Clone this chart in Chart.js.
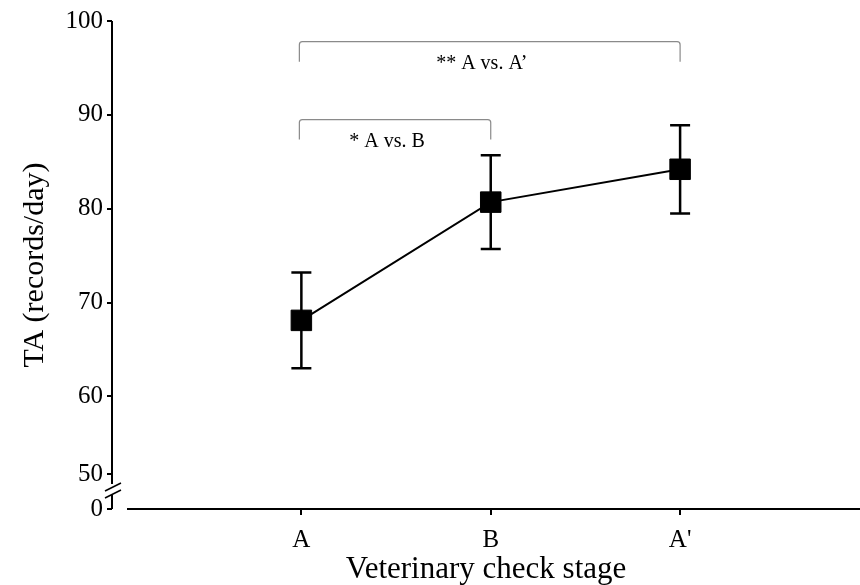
<!DOCTYPE html>
<html>
<head>
<meta charset="utf-8">
<script src="https://cdn.jsdelivr.net/npm/chart.js@4/dist/chart.umd.min.js"></script>
<style>
  html, body { margin: 0; padding: 0; background: #fff; overflow: hidden; }
  canvas { display: block; }
</style>
</head>
<body>
<canvas id="myChart" width="860" height="585"></canvas>
<script>
const stages = ["A", "B", "A'"];
const taMean = [68.1, 80.7, 84.2];
const taSd = [5.1, 5.0, 4.7];

// y axis is broken: "0" sits at the bottom, "50" just above the break
const yTickValues = [100, 90, 80, 70, 60];
const yBottom = 48;       // where the "0" tick is drawn
const yFifty = 51.7;      // where the "50" tick is drawn (compressed by the break)

const comparisons = [
  { from: 0, to: 2, y: 97.8, label: "** A vs. A\u2019" },
  { from: 0, to: 1, y: 89.5, label: "* A vs. B" }
];

const serif = "'Liberation Serif', 'DejaVu Serif', serif";

const errorBars = {
  id: "errorBars",
  beforeDatasetsDraw(chart) {
    const ctx = chart.ctx;
    const x = chart.scales.x;
    const y = chart.scales.y;
    ctx.save();
    ctx.strokeStyle = "#000";
    ctx.lineWidth = 2.5;
    taMean.forEach((m, i) => {
      const px = x.getPixelForValue(i);
      const top = y.getPixelForValue(m + taSd[i]);
      const bot = y.getPixelForValue(m - taSd[i]);
      ctx.beginPath();
      ctx.moveTo(px, top); ctx.lineTo(px, bot);
      ctx.moveTo(px - 10, top); ctx.lineTo(px + 10, top);
      ctx.moveTo(px - 10, bot); ctx.lineTo(px + 10, bot);
      ctx.stroke();
    });
    ctx.restore();
  }
};

const axesAndNotes = {
  id: "axesAndNotes",
  afterDraw(chart) {
    const ctx = chart.ctx;
    const area = chart.chartArea;
    const x = chart.scales.x;
    const y = chart.scales.y;
    ctx.save();
    ctx.strokeStyle = "#000";
    ctx.lineWidth = 2;
    // broken y axis
    ctx.beginPath();
    ctx.moveTo(area.left, area.top);
    ctx.lineTo(area.left, area.bottom - 25);
    ctx.moveTo(area.left, area.bottom - 14);
    ctx.lineTo(area.left, area.bottom);
    ctx.stroke();
    ctx.lineWidth = 1.5;
    ctx.beginPath();
    ctx.moveTo(area.left - 7, area.bottom - 18);
    ctx.lineTo(area.left + 9, area.bottom - 26);
    ctx.moveTo(area.left - 7, area.bottom - 11);
    ctx.lineTo(area.left + 9, area.bottom - 19);
    ctx.stroke();
    // x axis, starting right of the break
    ctx.lineWidth = 2;
    ctx.beginPath();
    ctx.moveTo(area.left + 15, area.bottom);
    ctx.lineTo(chart.width, area.bottom);
    ctx.stroke();

    // significance brackets
    ctx.strokeStyle = "#8a8a8a";
    ctx.lineWidth = 1.2;
    ctx.fillStyle = "#000";
    ctx.font = "20px " + serif;
    ctx.textAlign = "center";
    ctx.textBaseline = "alphabetic";
    comparisons.forEach(c => {
      const x1 = x.getPixelForValue(c.from) - 2;
      const x2 = x.getPixelForValue(c.to);
      const yt = y.getPixelForValue(c.y);
      const yb = yt + 20;
      ctx.beginPath();
      ctx.moveTo(x1, yb);
      ctx.lineTo(x1, yt + 3);
      ctx.quadraticCurveTo(x1, yt, x1 + 3, yt);
      ctx.lineTo(x2 - 3, yt);
      ctx.quadraticCurveTo(x2, yt, x2, yt + 3);
      ctx.lineTo(x2, yb);
      ctx.stroke();
      ctx.fillText(c.label, (x1 + x2) / 2 - 8, yt + 27);
    });
    ctx.restore();
  }
};

const config = {
  type: "scatter",
  data: {
    datasets: [{
      data: taMean.map((m, i) => ({ x: i, y: m })),
      showLine: true,
      borderColor: "#000",
      borderWidth: 2,
      backgroundColor: "#000",
      pointStyle: "rect",
      pointRadius: 14.5,
      pointHoverRadius: 14.5,
      pointBorderWidth: 1
    }]
  },
  options: {
    responsive: false,
    animation: false,
    events: [],
    layout: { autoPadding: false, padding: { top: 21, right: 0, left: 0, bottom: 0 } },
    plugins: { legend: { display: false }, tooltip: { enabled: false } },
    scales: {
      x: {
        type: "linear",
        min: -1,
        max: 2.95,
        afterBuildTicks: scale => { scale.ticks = stages.map((s, i) => ({ value: i })); },
        afterFit: scale => {
          scale.height = 76;
          scale.paddingLeft = 0;
          scale.paddingRight = 0;
        },
        border: { display: false },
        grid: { drawOnChartArea: false, drawTicks: true, tickLength: 6, color: "#000", lineWidth: 2 },
        ticks: {
          color: "#000",
          padding: 10,
          maxRotation: 0,
          font: { family: serif, size: 25 },
          callback: v => stages[v]
        },
        title: {
          display: true,
          text: "Veterinary check stage",
          color: "#000",
          font: { family: serif, size: 31, lineHeight: 1 },
          padding: { top: 0, bottom: 0 }
        }
      },
      y: {
        min: yBottom,
        max: 100,
        afterBuildTicks: scale => {
          scale.ticks = [yBottom, yFifty].concat(yTickValues.slice().reverse()).map(v => ({ value: v }));
        },
        afterFit: scale => { scale.width = 112; },
        border: { display: false },
        grid: { drawOnChartArea: false, drawTicks: true, tickLength: 5, color: "#000", lineWidth: 2 },
        ticks: {
          color: "#000",
          padding: 4,
          font: { family: serif, size: 25 },
          callback: v => v === yBottom ? "0" : (v === yFifty ? "50" : String(v))
        },
        title: {
          display: true,
          text: "TA (records/day)",
          color: "#000",
          font: { family: serif, size: 30, lineHeight: 1 },
          padding: { top: 20, bottom: 0 }
        }
      }
    }
  },
  plugins: [errorBars, axesAndNotes]
};

const myChart = new Chart(document.getElementById("myChart"), config);
</script>
</body>
</html>
